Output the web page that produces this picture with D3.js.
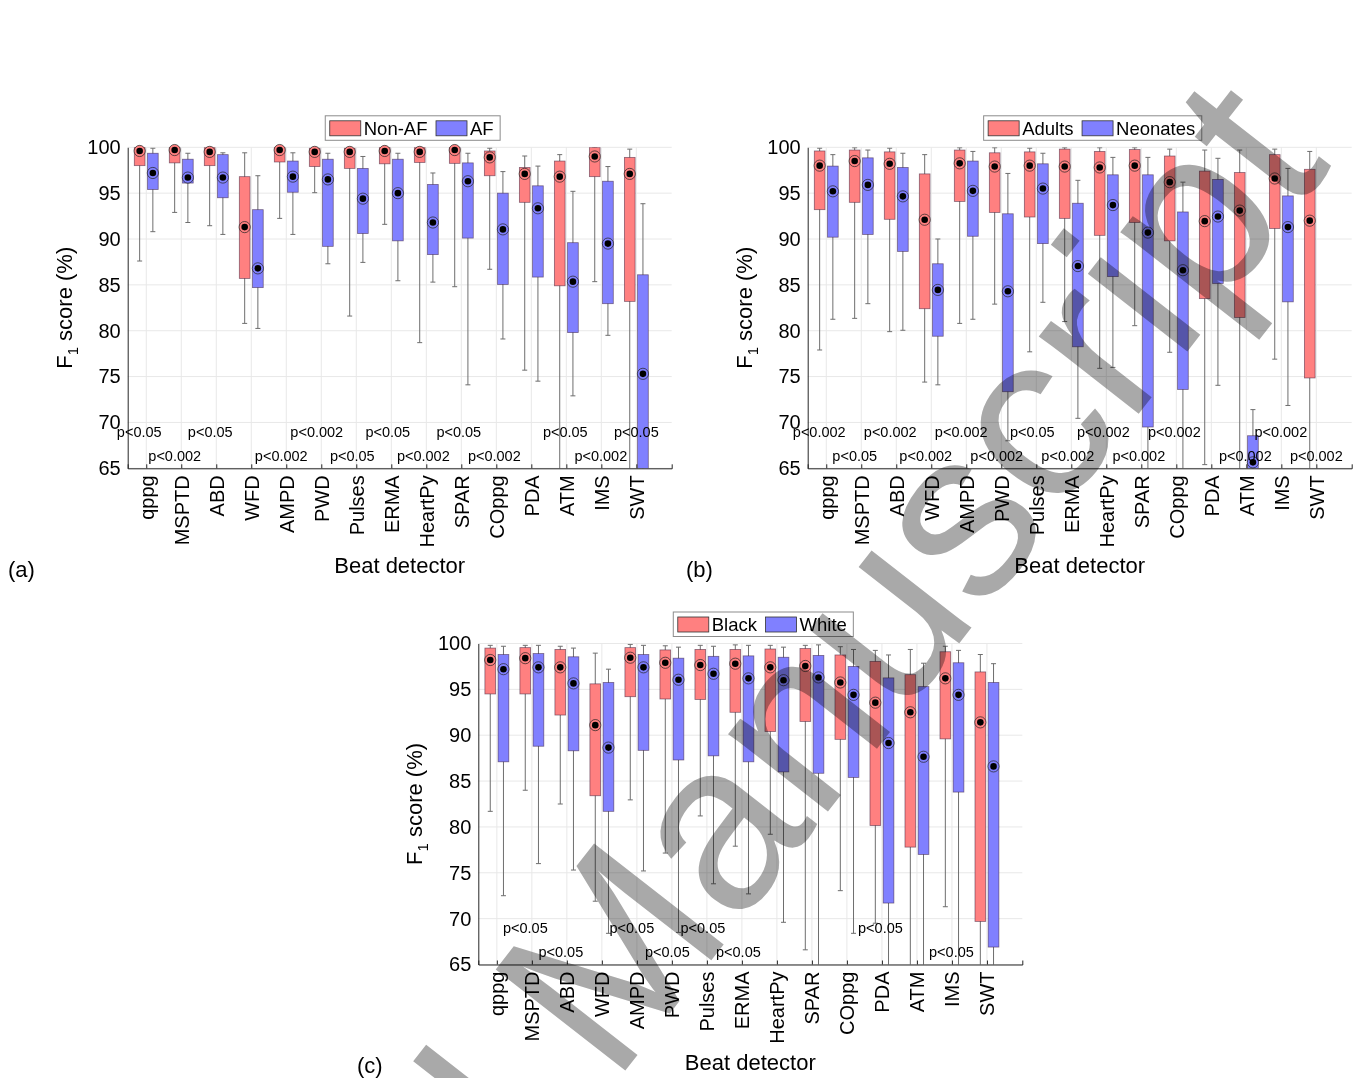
<!DOCTYPE html>
<html>
<head>
<meta charset="utf-8">
<script src="https://cdn.jsdelivr.net/npm/d3@7"></script>
<style>
  body { margin: 0; background: #fff; }
  svg { display: block; }
  text { font-family: "Liberation Sans", Arial, sans-serif; fill: #000; }
</style>
</head>
<body>
<svg id="fig" width="1359" height="1078"></svg>
<script>
// beat detectors on the x axis
const detectors = ['qppg', 'MSPTD', 'ABD', 'WFD', 'AMPD', 'PWD', 'Pulses', 'ERMA',
  'HeartPy', 'SPAR', 'COppg', 'PDA', 'ATM', 'IMS', 'SWT']
const yTicks = [65, 70, 75, 80, 85, 90, 95, 100]

// each entry: [lower whisker, q1, median, q3, upper whisker] of F1 score (%)
// (a) Non-AF vs AF
const nonAF = [
  [87.6, 98.0, 99.6, 100, 100], [92.9, 98.3, 99.7, 100, 100], [91.45, 98.0, 99.5, 100, 100],
  [80.8, 85.7, 91.3, 96.8, 99.4], [92.25, 98.4, 99.7, 100, 100], [95.05, 97.9, 99.5, 99.9, 100],
  [81.6, 97.7, 99.5, 99.9, 100], [91.6, 98.2, 99.6, 100, 100], [78.7, 98.35, 99.5, 100, 100],
  [84.8, 98.25, 99.7, 100, 100], [86.7, 96.9, 98.9, 99.6, 99.9], [75.7, 94.0, 97.1, 97.8, 99.05],
  [55, 84.9, 96.8, 98.5, 99.2], [85.35, 96.8, 99.0, 100, 100], [55, 83.2, 97.1, 98.9, 99.8]
]
const af = [
  [90.8, 95.4, 97.2, 99.35, 99.9], [91.8, 96.1, 96.7, 98.7, 99.35], [90.5, 94.5, 96.7, 99.2, 99.4],
  [80.25, 84.7, 86.8, 93.2, 96.9], [90.5, 95.1, 96.8, 98.5, 99.4], [87.3, 89.2, 96.5, 98.7, 99.35],
  [87.45, 90.6, 94.4, 97.7, 99.0], [85.45, 89.8, 95.0, 98.7, 99.35], [85.3, 88.3, 91.8, 95.95, 97.2],
  [74.1, 90.1, 96.3, 98.3, 99.35], [79.1, 85.05, 91.05, 95.0, 97.35], [74.5, 85.85, 93.35, 95.8, 97.95],
  [72.9, 79.8, 85.35, 89.6, 95.2], [79.5, 82.95, 89.5, 96.3, 97.9], [50, 60, 75.3, 86.1, 93.85]
]
const pA = ['p<0.05', 'p<0.002', 'p<0.05', '', 'p<0.002', 'p<0.002', 'p<0.05', 'p<0.05',
  'p<0.002', 'p<0.05', 'p<0.002', '', 'p<0.05', 'p<0.002', 'p<0.05']

// (b) Adults vs Neonates
const adults = [
  [77.9, 93.2, 98.0, 99.6, 99.9], [81.35, 94.0, 98.5, 99.7, 99.95], [79.9, 92.15, 98.2, 99.5, 99.9],
  [74.4, 82.4, 92.1, 97.1, 99.2], [80.8, 94.1, 98.25, 99.7, 99.95], [82.9, 92.9, 97.9, 99.4, 99.95],
  [77.7, 92.4, 98.0, 99.5, 99.9], [81.0, 92.25, 97.9, 99.8, 99.95], [75.9, 90.4, 97.8, 99.55, 99.95],
  [80.55, 91.8, 98.0, 99.75, 99.95], [77.65, 89.8, 96.2, 99.05, 99.8], [65.4, 83.5, 91.95, 97.4, 99.7],
  [55, 81.45, 93.1, 97.25, 99.7], [76.9, 91.15, 96.6, 99.2, 99.8], [55, 74.85, 92.0, 97.6, 99.55]
]
const neonates = [
  [81.25, 90.2, 95.2, 97.95, 99.2], [82.95, 90.5, 95.9, 98.85, 99.7], [80.05, 88.65, 94.65, 97.8, 99.35],
  [74.1, 79.4, 84.45, 87.3, 90.0], [81.25, 90.3, 95.25, 98.5, 99.55], [68, 73.35, 84.3, 92.75, 97.15],
  [83.1, 89.5, 95.5, 98.2, 99.35], [70.45, 78.25, 87.05, 93.9, 96.4], [76.0, 85.9, 93.7, 97.0, 98.9],
  [55, 69.5, 90.7, 97.0, 98.9], [55, 73.6, 86.6, 92.95, 96.2], [74.05, 85.15, 92.45, 96.5, 98.8],
  [50, 60, 65.65, 68.55, 71.4], [71.85, 83.15, 91.3, 94.7, 97.7], null
]
const pB = ['p<0.002', 'p<0.05', 'p<0.002', 'p<0.002', 'p<0.002', 'p<0.002', 'p<0.05', 'p<0.002',
  'p<0.002', 'p<0.002', 'p<0.002', '', 'p<0.002', 'p<0.002', 'p<0.002']

// (c) Black vs White
const black = [
  [81.7, 94.5, 98.2, 99.5, 99.8], [84.0, 94.5, 98.4, 99.55, 99.8], [82.5, 92.2, 97.4, 99.35, 99.7],
  [71.9, 83.4, 91.1, 95.6, 98.95], [82.95, 94.2, 98.45, 99.55, 99.9], [77.15, 93.95, 97.9, 99.3, 99.75],
  [81.2, 93.9, 97.65, 99.35, 99.8], [77.9, 92.5, 97.8, 99.35, 99.85], [79.2, 90.4, 97.4, 99.4, 99.8],
  [66.6, 91.5, 97.55, 99.45, 99.8], [73.05, 89.55, 95.75, 98.75, 99.65], [69.5, 80.15, 93.55, 98.05, 99.25],
  [55, 77.8, 92.5, 96.6, 99.35], [71.3, 89.6, 96.2, 99.1, 99.7], [55, 69.7, 91.4, 96.9, 98.8]
]
const white = [
  [72.5, 87.1, 97.2, 98.8, 99.7], [76.0, 88.8, 97.4, 98.9, 99.8], [75.3, 88.3, 95.65, 98.55, 99.5],
  [68.4, 81.7, 88.65, 95.75, 97.2], [75.2, 88.35, 97.4, 98.8, 99.8], [68.5, 87.3, 96.05, 98.4, 99.6],
  [73.8, 87.75, 96.7, 98.6, 99.7], [72.7, 87.1, 96.2, 98.65, 99.8], [69.6, 86.0, 96.0, 98.5, 99.6],
  [55, 85.85, 96.3, 98.7, 99.85], [68.4, 85.4, 94.4, 97.5, 99.35], [55, 71.7, 89.15, 96.25, 98.75],
  [55, 77.0, 87.65, 95.3, 97.85], [55, 83.8, 94.4, 97.9, 99.25], [55, 66.9, 86.6, 95.75, 97.8]
]
const pC = ['', 'p<0.05', 'p<0.05', '', 'p<0.05', 'p<0.05', 'p<0.05', 'p<0.05',
  '', '', '', 'p<0.05', '', 'p<0.05', '']

const RED = '#ff8080'
const BLUE = '#8080ff'

const svg = d3.select('#fig')
const pw = 544
const ph = 321
const x = d3.scaleLinear().domain([-0.53, 15.01]).range([0, pw])
const y = d3.scaleLinear().domain([65, 100]).range([ph, 0])
const off = 6.6 // half distance between the two boxes of a pair
const bw = 10.7

function drawPanel (id, left, top, series, pvals, tag, tagX, tagY) {
  const g = svg.append('g').attr('transform', 'translate(' + left + ',' + top + ')')

  // grid
  g.append('g').selectAll('line').data(yTicks).enter().append('line')
    .attr('x1', 0).attr('x2', pw).attr('y1', d => y(d)).attr('y2', d => y(d))
    .attr('stroke', '#e8e8e8')
  g.append('g').selectAll('line').data(detectors).enter().append('line')
    .attr('x1', (d, i) => x(i)).attr('x2', (d, i) => x(i)).attr('y1', 0).attr('y2', ph)
    .attr('stroke', '#e8e8e8')

  svg.append('clipPath').attr('id', 'clip' + id)
    .append('rect').attr('x', 0).attr('y', 0).attr('width', pw).attr('height', ph)
  const plot = g.append('g').attr('clip-path', 'url(#clip' + id + ')')
  const marks = g.append('g')

  series.forEach((s, k) => {
    const dx = k === 0 ? -off : off
    const col = k === 0 ? RED : BLUE
    const rows = s.data.map((d, i) => ({ d: d, i: i })).filter(r => r.d)

    const w = plot.append('g').selectAll('g').data(rows).enter().append('g')
    w.append('line')
      .attr('x1', r => x(r.i) + dx).attr('x2', r => x(r.i) + dx)
      .attr('y1', r => y(r.d[0])).attr('y2', r => y(r.d[4]))
      .attr('stroke', '#6e6e6e').attr('stroke-width', 1)
    w.append('line')
      .attr('x1', r => x(r.i) + dx - 2.5).attr('x2', r => x(r.i) + dx + 2.5)
      .attr('y1', r => y(r.d[4])).attr('y2', r => y(r.d[4]))
      .attr('stroke', '#6e6e6e')
    w.append('line')
      .attr('x1', r => x(r.i) + dx - 2.5).attr('x2', r => x(r.i) + dx + 2.5)
      .attr('y1', r => y(r.d[0])).attr('y2', r => y(r.d[0]))
      .attr('stroke', '#6e6e6e')
    w.append('rect')
      .attr('x', r => x(r.i) + dx - bw / 2).attr('width', bw)
      .attr('y', r => y(r.d[3])).attr('height', r => y(r.d[1]) - y(r.d[3]))
      .attr('fill', col).attr('stroke', 'rgba(60,30,60,0.6)').attr('stroke-width', 0.8)

    const m = marks.append('g').selectAll('g').data(rows).enter().append('g')
      .attr('transform', r => 'translate(' + (x(r.i) + dx) + ',' + y(r.d[2]) + ')')
    m.append('circle').attr('r', 5.6).attr('fill', col)
      .attr('stroke', '#222').attr('stroke-width', 0.7)
    m.append('circle').attr('r', 3.3).attr('fill', '#000')
  })

  // axes
  const ya = g.append('g').call(d3.axisLeft(y).tickValues(yTicks).tickSize(0).tickPadding(7))
  ya.select('.domain').attr('stroke', '#262626')
  ya.selectAll('text').attr('font-size', 20).attr('fill', '#262626')
    .attr('font-family', '"Liberation Sans", Arial, sans-serif')

  const xa = g.append('g').attr('transform', 'translate(0,' + ph + ')')
    .call(d3.axisBottom(x).tickValues(d3.range(detectors.length)).tickSize(-4).tickFormat(i => detectors[i]))
  xa.select('.domain').attr('stroke', '#262626')
  xa.selectAll('.tick line').attr('stroke', '#262626')
  xa.selectAll('text')
    .attr('font-size', 20).attr('fill', '#262626')
    .attr('font-family', '"Liberation Sans", Arial, sans-serif')
    .attr('transform', 'rotate(-90)')
    .attr('text-anchor', 'end')
    .attr('x', -7).attr('y', 0).attr('dy', '0.35em')

  // significance labels, alternating between two rows
  let n = 0
  pvals.forEach((p, i) => {
    if (!p) return
    const row = n % 2
    n++
    g.append('text')
      .attr('x', x(i) - 7 + 0.5 * i)
      .attr('y', row === 0 ? y(69) : y(66.4))
      .attr('dy', '0.35em')
      .attr('text-anchor', 'middle')
      .attr('font-size', 14.5)
      .text(p)
  })

  // axis titles
  g.append('text')
    .attr('x', pw / 2).attr('y', 426)
    .attr('text-anchor', 'middle').attr('font-size', 22).attr('fill', '#262626')
    .text('Beat detector')
  const yl = g.append('text')
    .attr('transform', 'translate(-56,' + (ph / 2) + ') rotate(-90)')
    .attr('text-anchor', 'middle').attr('font-size', 22).attr('fill', '#262626')
  yl.append('tspan').text('F')
  yl.append('tspan').attr('font-size', 15).attr('dy', 6).text('1')
  yl.append('tspan').attr('dy', -6).text(' score (%)')

  // legend
  const lg = g.append('g')
  const lbox = lg.append('rect').attr('fill', '#fff').attr('stroke', '#8c8c8c').attr('stroke-width', 1)
  let cx = 4.5
  series.forEach((s, k) => {
    lg.append('rect').attr('x', cx).attr('y', 5).attr('width', 31).attr('height', 15)
      .attr('fill', k === 0 ? RED : BLUE).attr('stroke', '#333').attr('stroke-width', 0.8)
    const t = lg.append('text').attr('x', cx + 34).attr('y', 12.5).attr('dy', '0.35em')
      .attr('font-size', 18.5).text(s.name)
    cx += 34 + t.node().getComputedTextLength() + 8.5
  })
  const lw = cx - 2
  lbox.attr('x', 0).attr('y', 0).attr('width', lw).attr('height', 24.5)
  lg.attr('transform', 'translate(' + (285 - lw / 2) + ',-31.5)')

  svg.append('text').attr('x', tagX).attr('y', tagY)
    .attr('font-family', '"Liberation Serif", "Times New Roman", serif')
    .attr('font-size', 22).text(tag)
}

drawPanel('a', 127.7, 147.3,
  [{ name: 'Non-AF', data: nonAF }, { name: 'AF', data: af }], pA, '(a)', 8, 577)
drawPanel('b', 807.7, 147.3,
  [{ name: 'Adults', data: adults }, { name: 'Neonates', data: neonates }], pB, '(b)', 686, 577)
drawPanel('c', 478.3, 643.5,
  [{ name: 'Black', data: black }, { name: 'White', data: white }], pC, '(c)', 357, 1073)

// watermark over the figure
svg.append('text')
  .attr('transform', 'translate(1333,165) rotate(-52)')
  .attr('text-anchor', 'end')
  .attr('font-family', '"Liberation Serif", "Times New Roman", serif')
  .attr('font-size', 239)
  .style('fill', '#a9a9a9')
  .style('mix-blend-mode', 'multiply')
  .text('Accepted Manuscript')
</script>
</body>
</html>
